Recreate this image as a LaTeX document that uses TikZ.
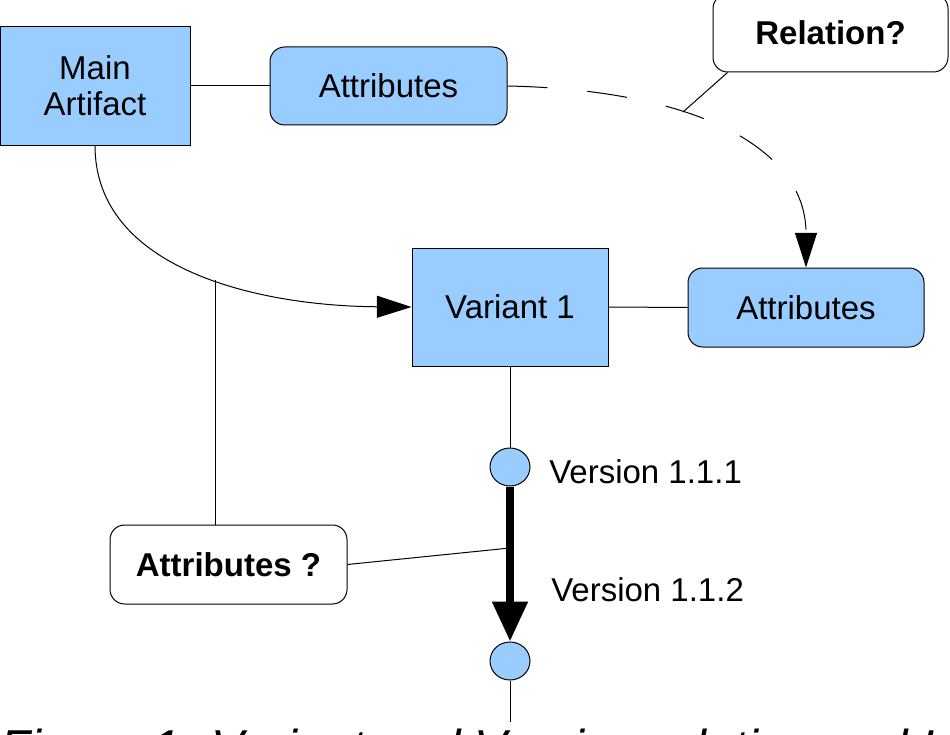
\documentclass[tikz,border=0pt]{standalone}
\usepackage{fontspec}
\setmainfont{Liberation Sans}
\usetikzlibrary{arrows.meta,shapes.geometric}
\definecolor{boxblue}{HTML}{99CCFF}
\begin{document}
\begin{tikzpicture}[x=0.75pt,y=-0.75pt,
  every node/.style={font=\fontsize{24.75pt}{27pt}\selectfont, inner sep=0pt},
  thinline/.style={line width=0.75pt},
  bluebox/.style={draw, fill=boxblue, line width=0.75pt, rectangle, align=center},
  bluerbox/.style={bluebox, rounded corners=11pt},
  whitebox/.style={draw, fill=white, line width=0.75pt, rectangle, rounded corners=11pt, font=\fontsize{24.75pt}{27pt}\selectfont\bfseries},
  vdot/.style={draw, fill=boxblue, line width=0.75pt, ellipse, minimum width=30pt, minimum height=28.5pt},
  vlabel/.style={anchor=west},
  bigtip/.style={-{Triangle[length=26pt,width=16.5pt]}}
]
\useasboundingbox (0,0) rectangle (950,735);
\clip (0,0) rectangle (950,735);

% nodes
\node[bluebox, minimum width=142.5pt, minimum height=88.5pt] (main) at (95,86) {Main\\Artifact};
\node[bluerbox, minimum width=177.75pt, minimum height=58.5pt] (attrtop) at (388.5,86) {Attributes};
\node[whitebox, minimum width=176.25pt, minimum height=58.5pt] (relation) at (830.5,33) {Relation?};
\node[bluebox, minimum width=147pt, minimum height=88.5pt] (variant) at (510,307) {Variant 1};
\node[bluerbox, minimum width=177pt, minimum height=59.25pt] (attrright) at (806,307.5) {Attributes};
\node[whitebox, minimum width=177.75pt, minimum height=59.25pt] (attrq) at (228.5,564.5) {Attributes ?};
\node[vdot] (v1) at (510,467) {};
\node[vdot] (v2) at (510,661) {};
\node[vlabel] (l1) at (549,472) {Version 1.1.1};
\node[vlabel] (l2) at (551,590) {Version 1.1.2};

\coordinate (relend) at (683,112);
\coordinate (aj) at (510,548);
\coordinate (vend) at (510,722);

% connectors
\draw[thinline] (main.east) -- (attrtop.west);
\draw[thinline] (variant.east) -- (attrright.west);
\draw[thinline, dash pattern=on 30pt off 30pt, bigtip]
  (attrtop.east) .. controls (700,90) and (806,150) .. (attrright.north);
\draw[thinline] (relation.201) -- (relend);
\draw[thinline, bigtip]
  (main.south) .. controls (95,270) and (260,306) .. coordinate[pos=0.55] (cj) (variant.west);
\draw[thinline] (cj) -- (cj |- attrq.north);
\draw[thinline] (variant.south) -- (v1.north);
\draw[line width=6pt, -{Triangle[length=30pt,width=25.5pt]}] (v1.south) -- (v2.north);
\draw[thinline] (attrq.east) -- (aj);
\draw[thinline] (v2.south) -- (vend);

% caption (cut off at the bottom edge, as in the reference)
\node[anchor=base west, font=\fontsize{36.75pt}{40pt}\selectfont\itshape] (caption) at (0,764)
  {Figure 1: Variant and Version relation and L};
\end{tikzpicture}
\end{document}
